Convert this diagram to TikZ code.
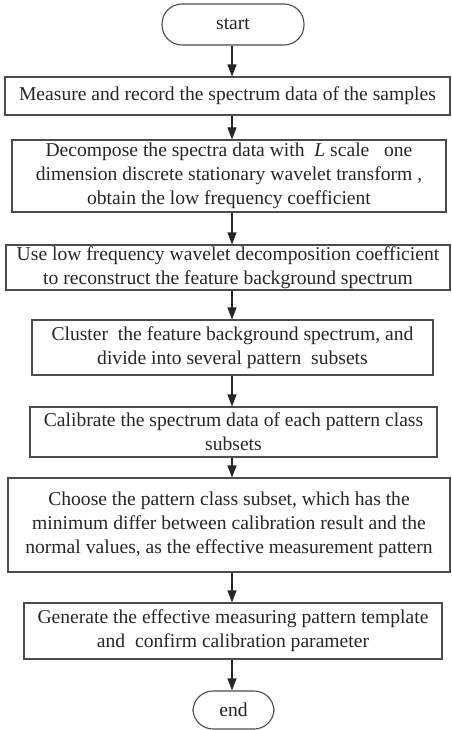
\documentclass[tikz,border=0pt]{standalone}
\usepackage{fontspec}
\setmainfont{Liberation Serif}
\usetikzlibrary{arrows.meta}
\tikzset{
  procbox/.style={draw=black!70, line width=1.1pt, align=center, inner sep=0pt,
    text=black!85, font=\fontsize{19.6}{24}\selectfont},
  termbox/.style={procbox, rounded corners=20pt},
  flow/.style={draw=black!85, line width=1.1pt, -{Triangle[length=12pt,width=9pt]}}
}
% place a box by its left, top, right and bottom edges (in px units)
\newcommand{\edgebox}[7]{%
  \node[#1, minimum width={(#5)-(#3)}, minimum height={(#6)-(#4)}]
    (#2) at ({((#3)+(#5))/2}, {-((#4)+(#6))/2}) {#7};}
\begin{document}
\begin{tikzpicture}[x=1pt, y=1pt]
  \useasboundingbox (0,0) rectangle (451,-730);
  \edgebox{termbox}{start}{162}{4}{304}{45}{start}
  \edgebox{procbox}{s1}{5}{77}{450}{115}{Measure and record the spectrum data of the samples}
  \edgebox{procbox}{s2}{12}{140}{446}{212}{Decompose the spectra data with \ \textit{L} scale \ \ one\\ dimension discrete stationary wavelet transform ,\\ obtain the low frequency coefficient}
  \edgebox{procbox}{s3}{6}{245}{450}{290}{Use low frequency wavelet decomposition coefficient\\ to reconstruct the feature background spectrum}
  \edgebox{procbox}{s4}{32}{320}{433}{375}{Cluster \ the feature background spectrum, and\\ divide into several pattern \ subsets}
  \edgebox{procbox}{s5}{30}{407}{437}{457}{Calibrate the spectrum data of each pattern class\\ subsets}
  \edgebox{procbox}{s6}{8}{478}{450}{572}{Choose the pattern class subset, which has the\\ minimum differ between calibration result and the\\ normal values, as the effective measurement pattern}
  \edgebox{procbox}{s7}{24}{603}{442}{659}{Generate the effective measuring pattern template\\ and \ confirm calibration parameter}
  \edgebox{termbox}{end}{193}{691}{274}{729}{end}
  \foreach \a/\b in {start/s1, s1/s2, s2/s3, s3/s4, s4/s5, s5/s6, s6/s7, s7/end}
    \draw[flow] (\a.south -| 232,0) -- (\b.north -| 232,0);
\end{tikzpicture}
\end{document}
